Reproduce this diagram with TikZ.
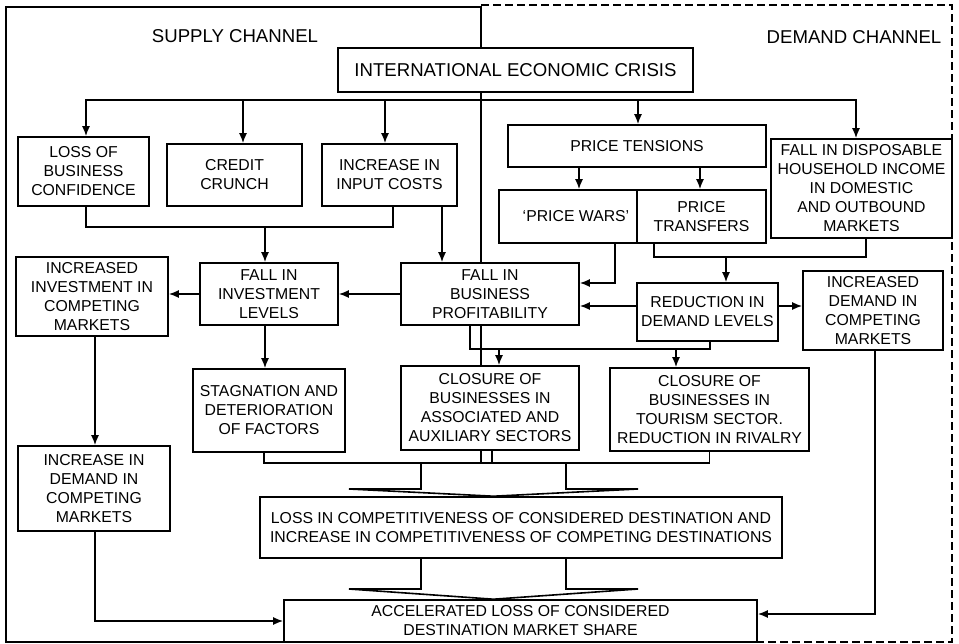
\documentclass[tikz,border=0pt]{standalone}
\usepackage{fontspec}
\setmainfont{Liberation Sans}
\usepackage{tikz}
\usetikzlibrary{arrows.meta}
\tikzset{>={Latex[length=10pt,width=8pt]}}
\newcommand{\diagfont}{\fontsize{15.8}{19}\selectfont}
\newcommand{\chanfont}{\fontsize{18.6}{22}\selectfont}

\begin{document}
\begin{tikzpicture}[x=1pt,y=-1pt,line width=1.6pt,
    box/.style={draw, fill=white, align=center, inner sep=0pt, font=\diagfont},
    chan/.style={font=\chanfont}]
\useasboundingbox (0,0) rectangle (959,643);
% supply and demand frames
\draw (481,463) -- (481,7) -- (6,7) -- (6,642) -- (284,642);
\draw[dash pattern=on 8pt off 4pt, line width=1.4pt] (481,5) -- (952,5) -- (952,642) -- (757,642);
\node[chan] (supply) at (235,36) {SUPPLY CHANNEL};
\node[chan] (demand) at (854,37) {DEMAND CHANNEL};

\node[box, minimum width=355, minimum height=44, font=\chanfont] (crisis) at (515.5,70) {INTERNATIONAL ECONOMIC CRISIS};
\node[box, minimum width=131, minimum height=69] (confidence) at (83.5,171.5) {LOSS OF\\BUSINESS\\CONFIDENCE};
\node[box, minimum width=135, minimum height=62] (credit) at (234.5,175) {CREDIT\\CRUNCH};
\node[box, minimum width=135, minimum height=62] (inputs) at (389.5,175) {INCREASE IN\\INPUT COSTS};
\node[box, minimum width=258, minimum height=42] (tensions) at (637,146) {PRICE TENSIONS};
\node[box, minimum width=138, minimum height=53] (wars) at (568,216.5) {\hspace*{16pt}‘PRICE WARS’};
\node[box, minimum width=129, minimum height=53] (transfers) at (701.5,216.5) {PRICE\\TRANSFERS};
\node[box, minimum width=181, minimum height=99] (income) at (861.5,188.5) {FALL IN DISPOSABLE\\HOUSEHOLD INCOME\\IN DOMESTIC\\AND OUTBOUND\\MARKETS};
\node[box, minimum width=152, minimum height=79] (investinc) at (92,296.5) {INCREASED\\INVESTMENT IN\\COMPETING\\MARKETS};
\node[box, minimum width=138, minimum height=62] (invest) at (269,294) {FALL IN\\INVESTMENT\\LEVELS};
\node[box, minimum width=178, minimum height=62] (profit) at (490,294) {FALL IN\\BUSINESS\\PROFITABILITY};
\node[box, minimum width=141, minimum height=58] (reduction) at (707.5,312) {REDUCTION IN\\DEMAND LEVELS};
\node[box, minimum width=140, minimum height=79] (demandinc) at (873,310.5) {INCREASED\\DEMAND IN\\COMPETING\\MARKETS};
\node[box, minimum width=152, minimum height=85] (demandcomp) at (94,488.5) {INCREASE IN\\DEMAND IN\\COMPETING\\MARKETS};
\node[box, minimum width=152, minimum height=83] (stagnation) at (269,410.5) {STAGNATION AND\\DETERIORATION\\OF FACTORS};
\node[box, minimum width=178, minimum height=84] (closeaux) at (490,408) {CLOSURE OF\\BUSINESSES IN\\ASSOCIATED AND\\AUXILIARY SECTORS};
\node[box, minimum width=199, minimum height=83] (closetour) at (709.5,409.5) {CLOSURE OF\\BUSINESSES IN\\TOURISM SECTOR.\\REDUCTION IN RIVALRY};
\node[box, minimum width=522, minimum height=61] (competitiveness) at (521,527.5) {LOSS IN COMPETITIVENESS OF CONSIDERED DESTINATION AND\\INCREASE IN COMPETITIVENESS OF COMPETING DESTINATIONS};
\node[box, minimum width=473, minimum height=42] (share) at (520.5,621) {ACCELERATED LOSS OF CONSIDERED\\DESTINATION MARKET SHARE};

% junction points
\coordinate (bus) at (481,100);
\coordinate (join1) at (265,227);
\coordinate (join2) at (726,257);
\coordinate (split) at (590,349);
\coordinate (merge) at (493,463);
\coordinate (fanL) at (421,463);
\coordinate (fanR) at (566,463);
\coordinate (wingL) at (349,489);
\coordinate (wingR) at (638,489);
\coordinate (wingLL) at (349,589);
\coordinate (wingRR) at (638,589);

\draw[->] (bus) -| ([xshift=2.5]confidence.north);
\draw[->] (bus) -| ([xshift=8.5]credit.north);
\draw[->] (bus) -| ([xshift=-4.5]inputs.north);
\draw[->] (bus) -| ([xshift=1]tensions.north);
\draw[->] (bus) -| ([xshift=-5.5]income.north);
\draw[->] ([xshift=11]wars.north |- tensions.south) -- ([xshift=11]wars.north);
\draw[->] ([xshift=-1.5]transfers.north |- tensions.south) -- ([xshift=-1.5]transfers.north);
\draw ([xshift=2.5]confidence.south) |- (join1) -| ([xshift=3.5]inputs.south);
\draw[->] (join1) -- (join1 |- invest.north);
\draw[->] ([xshift=52.5]inputs.south) -- ([xshift=52.5]inputs.south |- profit.north);
\draw[->] (profit.west) -- (invest.east);
\draw[->] (invest.west) -- (invest.west -| investinc.east);
\draw[->] ([xshift=47]wars.south) |- ([yshift=11]profit.east);
\draw ([xshift=-47.5]transfers.south) |- (join2) -| ([xshift=4.5]income.south);
\draw[->] (join2) -- (join2 |- reduction.north);
\draw[->] ([yshift=6]reduction.west) -- ([yshift=6]reduction.west -| profit.east);
\draw[->] ([yshift=6]reduction.east) -- ([yshift=6]reduction.east -| demandinc.west);
\draw ([xshift=-20]profit.south) |- (split) -| ([xshift=2.5]reduction.south);
\draw[->] ([xshift=9]closeaux.north |- split) -- ([xshift=9]closeaux.north);
\draw[->] ([xshift=-33.5]closetour.north |- split) -- ([xshift=-33.5]closetour.north);
\draw[->] ([xshift=3]investinc.south) -- ([xshift=3]investinc.south |- demandcomp.north);
\draw[->] ([xshift=-4]invest.south) -- ([xshift=-4]invest.south |- stagnation.north);
\draw ([xshift=-5]stagnation.south) |- (merge) -| (closetour.south);
\draw ([xshift=2]closeaux.south) -- ([xshift=2]closeaux.south |- merge);
\draw (fanL) |- (wingL) -- ([xshift=-27.5]competitiveness.north) -- (wingR) -| (fanR);
\draw ([xshift=-100]competitiveness.south) |- (wingLL) -- ([xshift=-27]share.north) -- (wingRR) -| ([xshift=45]competitiveness.south);
\draw[->] ([xshift=1]demandcomp.south) |- (share.west);
\draw[->] ([xshift=2]demandinc.south) |- ([yshift=7]share.east);
\end{tikzpicture}
\end{document}
